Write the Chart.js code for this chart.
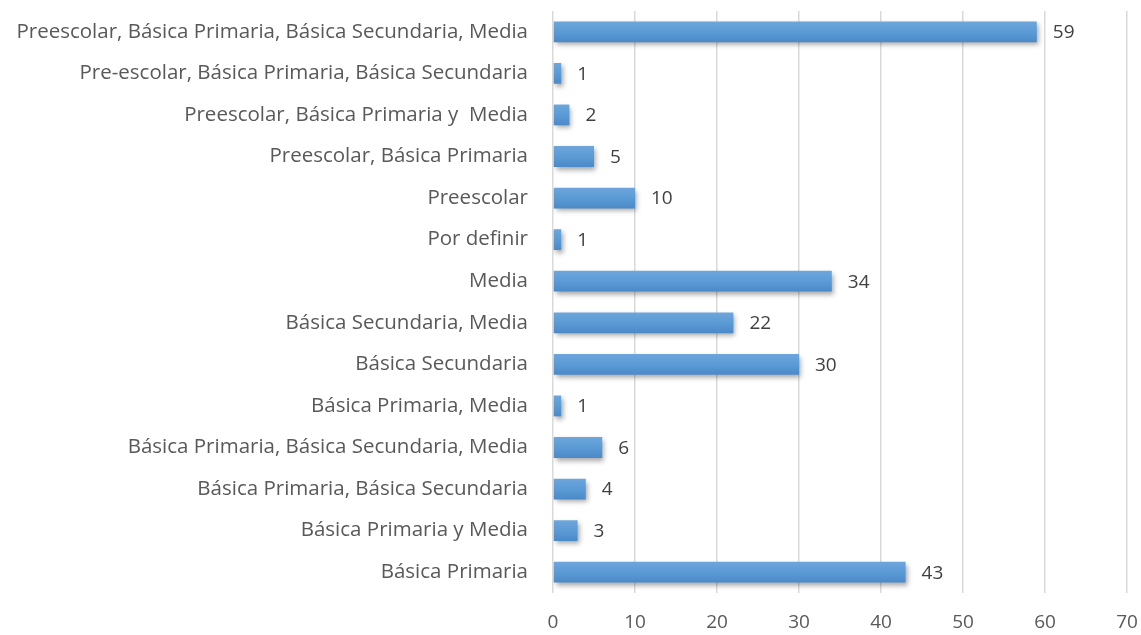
<!DOCTYPE html>
<html lang="es">
<head>
  <meta charset="UTF-8" />
  <title>Niveles educativos</title>
  <script src="https://cdn.jsdelivr.net/npm/chart.js"></script>
  <style>
    html, body { margin: 0; padding: 0; background: #ffffff; }
    #wrap { width: 1141px; height: 635px; position: relative; }
  </style>
</head>
<body>
  <div id="wrap"><canvas id="chart"></canvas></div>
  <script>
    const categories = [
      'Preescolar, Básica Primaria, Básica Secundaria, Media',
      'Pre-escolar, Básica Primaria, Básica Secundaria',
      'Preescolar, Básica Primaria y  Media',
      'Preescolar, Básica Primaria',
      'Preescolar',
      'Por definir',
      'Media',
      'Básica Secundaria, Media',
      'Básica Secundaria',
      'Básica Primaria, Media',
      'Básica Primaria, Básica Secundaria, Media',
      'Básica Primaria, Básica Secundaria',
      'Básica Primaria y Media',
      'Básica Primaria'
    ];
    const values = [59, 1, 2, 5, 10, 1, 34, 22, 30, 1, 6, 4, 3, 43];
    const xTicks = [0, 10, 20, 30, 40, 50, 60, 70];

    const FONT = '"Open Sans", Lato, sans-serif';
    const TEXT = '#595959';

    // gradient per bar, from the bar's own pixel row
    function barFill(c) {
      const yScale = c.chart.scales.y;
      if (!yScale || c.dataIndex === undefined) return '#5b9bd5';
      const y = yScale.getPixelForValue(c.dataIndex);
      if (!isFinite(y)) return '#5b9bd5';
      const g = c.chart.ctx.createLinearGradient(0, y - 11, 0, y + 11);
      g.addColorStop(0, '#6fa6dc');
      g.addColorStop(0.5, '#5b9bd5');
      g.addColorStop(1, '#4a88c7');
      return g;
    }

    const shadowPlugin = {
      id: 'barShadow',
      beforeDatasetsDraw(chart) {
        const ctx = chart.ctx;
        ctx.save();
        ctx.shadowColor = 'rgba(0,0,0,0.35)';
        ctx.shadowBlur = 5;
        ctx.shadowOffsetX = 2;
        ctx.shadowOffsetY = 3;
      },
      afterDatasetsDraw(chart) {
        chart.ctx.restore();
      }
    };

    const valueLabels = {
      id: 'valueLabels',
      afterDatasetsDraw(chart) {
        const ctx = chart.ctx;
        const meta = chart.getDatasetMeta(0);
        ctx.save();
        ctx.font = '19px ' + FONT;
        ctx.fillStyle = '#404040';
        ctx.textAlign = 'left';
        ctx.textBaseline = 'middle';
        meta.data.forEach((bar, i) => {
          ctx.fillText(String(values[i]), bar.x + 16, bar.y + 1);
        });
        ctx.restore();
      }
    };

    new Chart(document.getElementById('chart'), {
      type: 'bar',
      data: {
        labels: categories,
        datasets: [{
          data: values,
          backgroundColor: barFill,
          borderWidth: 0,
          barPercentage: 0.5,
          categoryPercentage: 1.0
        }]
      },
      plugins: [shadowPlugin, valueLabels],
      options: {
        indexAxis: 'y',
        responsive: true,
        maintainAspectRatio: false,
        animation: false,
        layout: { padding: { top: 11, right: 14, bottom: 0, left: 0 } },
        plugins: {
          legend: { display: false },
          tooltip: { enabled: false }
        },
        scales: {
          x: {
            min: 0,
            max: 70,
            afterBuildTicks(axis) { axis.ticks = xTicks.map(v => ({ value: v })); },
            afterFit(axis) {
              axis.height = 42;
              axis.paddingLeft = 0;
              axis.paddingRight = 0;
            },
            grid: { color: '#d9d9d9', lineWidth: 1.5, drawTicks: false },
            border: { display: false },
            ticks: { color: TEXT, font: { family: FONT, size: 19 }, padding: 18 }
          },
          y: {
            afterFit(axis) {
              axis.width = 553;
              axis.paddingTop = 0;
              axis.paddingBottom = 0;
            },
            grid: { display: false, drawTicks: false },
            border: { display: false },
            ticks: { color: TEXT, font: { family: FONT, size: 20.5 }, padding: 25, autoSkip: false }
          }
        }
      }
    });
  </script>
</body>
</html>
